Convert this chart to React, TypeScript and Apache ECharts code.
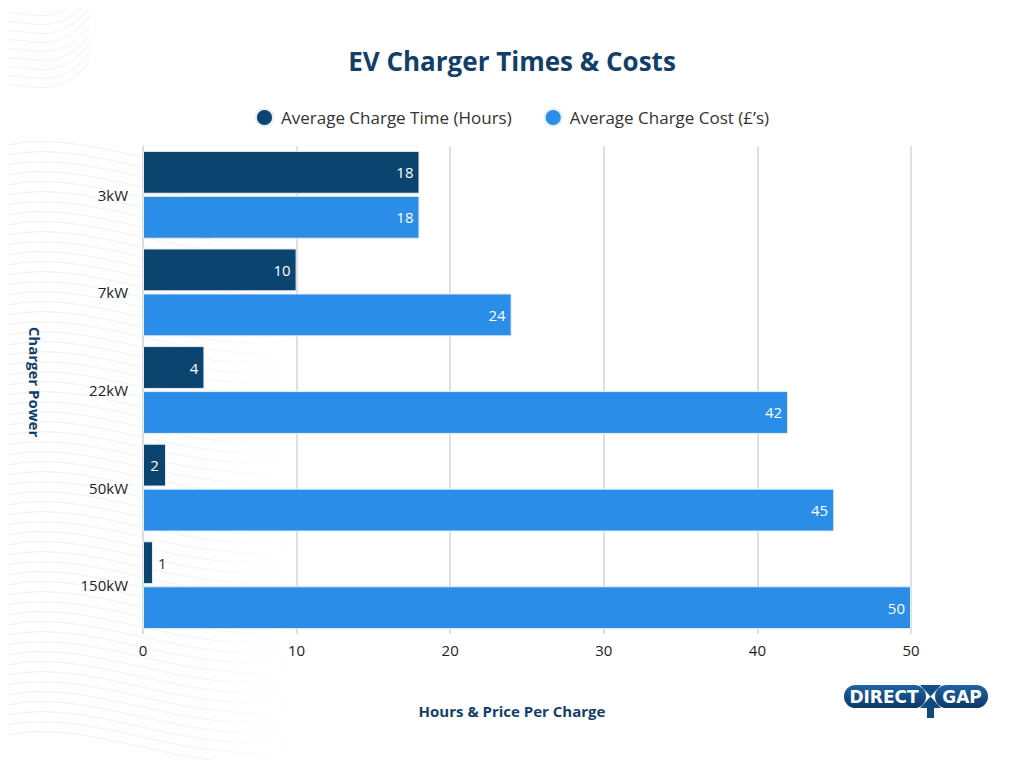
import React, { useEffect, useRef } from 'react';
import * as echarts from 'echarts';

const chargers = ['3kW', '7kW', '22kW', '50kW', '150kW'];
const chargeTime = [18, 10, 4, 1.5, 0.65];
const chargeCost = [18, 24, 42, 45, 50];
const xTicks = { min: 0, max: 50, interval: 10 };

const DARK = '#0c4470';
const LIGHT = '#2a8de8';
const NAVY_TEXT = '#123f69';
const FONT = '"Open Sans", Lato, sans-serif';

// faint wavy lines in the background, purely decorative
const waveStroke = () =>
  new echarts.graphic.LinearGradient(0, 0, 1, 0, [
    { offset: 0, color: '#eceef1' },
    { offset: 0.6, color: '#f0f2f4' },
    { offset: 1, color: 'rgba(255,255,255,0)' },
  ]);
const waves: any[] = [];
for (let i = 0; i < 60; i++) {
  const y = 150 + i * 10;
  waves.push({
    type: 'bezierCurve',
    silent: true,
    z: -10,
    shape: { x1: -10, y1: y, cpx1: 90, cpy1: y - 35, cpx2: 200, cpy2: y + 55, x2: 340, y2: y + 10 },
    style: { stroke: waveStroke(), lineWidth: 1, fill: null },
  });
}
for (let i = 0; i < 10; i++) {
  const y = 10 + i * 9;
  waves.push({
    type: 'bezierCurve',
    silent: true,
    z: -10,
    shape: { x1: -10, y1: y, cpx1: 20, cpy1: y - 20, cpx2: 50, cpy2: y + 20, x2: 90, y2: y - 30 },
    style: { stroke: '#f1f3f5', lineWidth: 1, fill: null },
  });
}

const App: React.FC = () => {
  const chartRef = useRef<HTMLDivElement>(null);

  useEffect(() => {
    if (!chartRef.current) return;
    const chart = echarts.init(chartRef.current, undefined, { renderer: 'svg' });

    const timeData = chargeTime.map((v) => {
      if (v < 1) {
        return { value: v, label: { position: 'right', color: '#333', distance: 5 } };
      }
      if (v < 3) {
        return { value: v, label: { position: 'inside' } };
      }
      return { value: v };
    });

    chart.setOption({
      animation: false,
      backgroundColor: '#ffffff',
      textStyle: { fontFamily: FONT },
      title: {
        text: 'EV Charger Times & Costs',
        left: 'center',
        top: 43,
        textStyle: { fontSize: 26, fontWeight: 'bold', color: NAVY_TEXT, fontFamily: FONT },
      },
      legend: {
        top: 103,
        left: 'center',
        icon: 'circle',
        itemWidth: 17,
        itemHeight: 17,
        itemGap: 32,
        textStyle: { fontSize: 17, color: '#333', fontFamily: FONT, padding: [0, 0, 0, 3] },
      },
      grid: { left: 143, right: 113, top: 146, bottom: 134 },
      xAxis: {
        type: 'value',
        min: xTicks.min,
        max: xTicks.max,
        interval: xTicks.interval,
        axisLine: { show: false },
        axisTick: { show: false },
        axisLabel: { color: '#222', fontSize: 15, margin: 8, fontFamily: FONT },
        splitLine: { lineStyle: { color: '#d6d6d6', width: 1.5 } },
      },
      yAxis: {
        type: 'category',
        data: chargers,
        inverse: true,
        axisLine: { show: true, lineStyle: { color: '#dcdcdc', width: 1.5 } },
        axisTick: { show: false },
        axisLabel: { color: '#222', fontSize: 15, margin: 15, fontFamily: FONT },
      },
      series: [
        {
          name: 'Average Charge Time (Hours)',
          type: 'bar',
          data: timeData,
          barGap: '5%',
          barCategoryGap: '10%',
          itemStyle: { color: DARK, borderColor: '#e6edf5', borderWidth: 1 },
          label: {
            show: true,
            position: 'insideRight',
            distance: 6,
            color: '#fff',
            fontSize: 15,
            fontFamily: FONT,
            formatter: (p: any) => String(Math.round(p.value)),
          },
        },
        {
          name: 'Average Charge Cost (£\u2019s)',
          type: 'bar',
          data: chargeCost,
          barGap: '5%',
          barCategoryGap: '10%',
          itemStyle: { color: LIGHT, borderColor: '#e6edf5', borderWidth: 1 },
          label: {
            show: true,
            position: 'insideRight',
            distance: 6,
            color: '#fff',
            fontSize: 15,
            fontFamily: FONT,
          },
        },
      ],
      color: [DARK, LIGHT],
      graphic: [
        ...waves,
        {
          type: 'text',
          x: 35,
          y: 382,
          rotation: -Math.PI / 2,
          style: {
            text: 'Charger Power',
            fill: NAVY_TEXT,
            font: `bold 15px ${FONT}`,
            align: 'center',
            verticalAlign: 'middle',
          },
        },
        {
          type: 'text',
          x: 512,
          y: 711,
          style: {
            text: 'Hours & Price Per Charge',
            fill: NAVY_TEXT,
            font: `bold 15px ${FONT}`,
            align: 'center',
            verticalAlign: 'middle',
          },
        },
        // Direct Gap logo
        {
          type: 'group',
          x: 844,
          y: 685,
          children: [
            {
              type: 'rect',
              shape: { x: 0, y: 0, width: 82, height: 23, r: 11.5 },
              style: {
                fill: new echarts.graphic.LinearGradient(0, 0, 0, 1, [
                  { offset: 0, color: '#1f64a3' },
                  { offset: 1, color: '#0b3966' },
                ]),
              },
            },
            {
              type: 'rect',
              shape: { x: 91, y: 0, width: 53, height: 23, r: 11.5 },
              style: {
                fill: new echarts.graphic.LinearGradient(0, 0, 0, 1, [
                  { offset: 0, color: '#1f64a3' },
                  { offset: 1, color: '#0b3966' },
                ]),
              },
            },
            {
              type: 'polygon',
              shape: { points: [[76, 0], [97, 0], [86.5, 11.5], [97, 23], [76, 23], [86.5, 11.5]] },
              style: { fill: '#154e86' },
            },
            {
              type: 'polygon',
              shape: { points: [[86.5, 14], [94, 22], [90, 22], [90, 33], [83, 33], [83, 22], [79, 22]] },
              style: { fill: '#0f4a7e' },
            },
            {
              type: 'text',
              x: 40,
              y: 12,
              style: {
                text: 'DIRECT',
                fill: '#fff',
                font: 'bold 17px "DejaVu Sans", sans-serif',
                align: 'center',
                verticalAlign: 'middle',
              },
            },
            {
              type: 'text',
              x: 118,
              y: 12,
              style: {
                text: 'GAP',
                fill: '#fff',
                font: 'bold 17px "DejaVu Sans", sans-serif',
                align: 'center',
                verticalAlign: 'middle',
              },
            },
          ],
        },
      ],
    });

    return () => {
      chart.dispose();
    };
  }, []);

  return (
    <div
      ref={chartRef}
      style={{ width: 1024, height: 768, margin: -8 }}
      aria-label="EV Charger Times & Costs"
      role="img"
    />
  );
};

export default App;
